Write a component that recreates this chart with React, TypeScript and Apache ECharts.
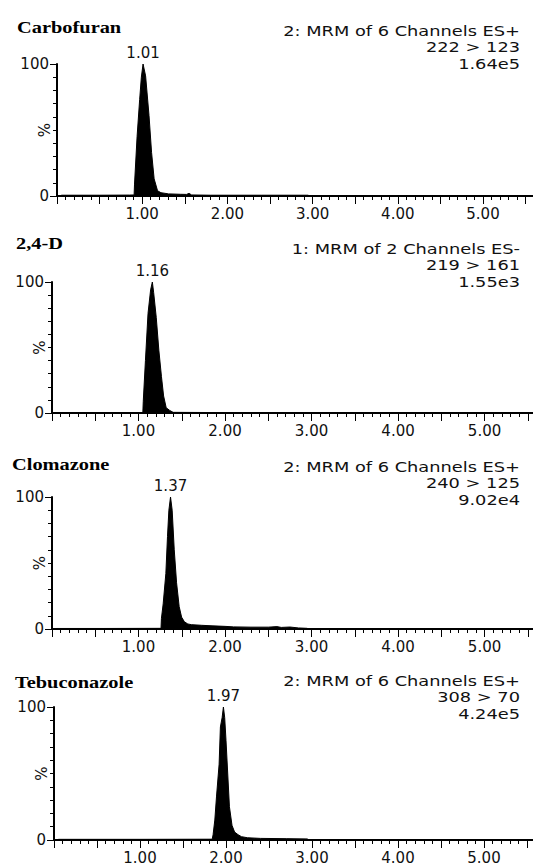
import React, { useEffect, useRef } from "react";
import * as echarts from "echarts";

// ---- data ----
const compoundNames = ["Carbofuran", "2,4-D", "Clomazone", "Tebuconazole"];
const channelLines = [
  ["2: MRM of 6 Channels ES+", "222 > 123", "1.64e5"],
  ["1: MRM of 2 Channels ES-", "219 > 161", "1.55e3"],
  ["2: MRM of 6 Channels ES+", "240 > 125", "9.02e4"],
  ["2: MRM of 6 Channels ES+", "308 > 70", "4.24e5"],
];
const peakTimes = [1.01, 1.16, 1.37, 1.97];
const peakLabels = ["1.01", "1.16", "1.37", "1.97"];
const xTickLabels = ["1.00", "2.00", "3.00", "4.00", "5.00"];
const yTickLabels = ["0", "100"];
const yAxisName = "%";

const carbofuran: [number, number][] = [
  [0.05, 0.6], [0.5, 0.6], [0.85, 0.7], [0.905, 0.8], [0.91, 9], [0.94, 45],
  [0.97, 73], [0.99, 90], [1.01, 100], [1.04, 91], [1.08, 61], [1.11, 33],
  [1.14, 13], [1.18, 4], [1.22, 2.5], [1.31, 1.6], [1.45, 1.3], [1.52, 1.2],
  [1.55, 2.0], [1.58, 0.8], [1.8, 0.6], [2.4, 0.6], [2.95, 0.6],
];
const dichlorophenoxy: [number, number][] = [
  [0.05, 0.3], [0.6, 0.3], [1.05, 0.3], [1.055, 9], [1.08, 40], [1.11, 76],
  [1.14, 94], [1.16, 100], [1.175, 92], [1.205, 73], [1.235, 48], [1.265, 28],
  [1.29, 13], [1.32, 4], [1.36, 2], [1.4, 0.5], [2.0, 0.3], [2.95, 0.3],
];
const clomazone: [number, number][] = [
  [0.05, 0.4], [0.6, 0.4], [1.26, 0.5], [1.265, 8], [1.285, 19], [1.316, 42],
  [1.335, 70], [1.351, 90], [1.37, 100], [1.389, 90], [1.413, 60], [1.44, 35],
  [1.47, 17], [1.498, 9], [1.53, 5.5], [1.57, 3.8], [1.61, 3.3], [1.73, 2.8],
  [1.85, 2.4], [2.0, 2.0], [2.1, 1.6], [2.3, 1.4], [2.5, 1.4], [2.6, 1.8],
  [2.65, 1.2], [2.75, 1.5], [2.85, 0.8], [2.95, 0.5],
];
const tebuconazole: [number, number][] = [
  [0.05, 0.5], [1.0, 0.5], [1.84, 0.6], [1.85, 4], [1.87, 15], [1.89, 33],
  [1.92, 57], [1.935, 85], [1.955, 92], [1.97, 100], [1.985, 92], [2.0, 75],
  [2.04, 25], [2.07, 11], [2.1, 6], [2.14, 4], [2.18, 2.5], [2.25, 1.7],
  [2.4, 1.2], [2.7, 1.0], [2.95, 0.8],
];
const traces = [carbofuran, dichlorophenoxy, clomazone, tebuconazole];

// ---- layout (pixels) ----
const panels = [
  { left: 57, top: 64, height: 132, max: 5.587, titleY: 27, textY: 31, titleX: 17 },
  { left: 52, top: 282, height: 131, max: 5.56, titleY: 243, textY: 249, titleX: 16 },
  { left: 52, top: 497, height: 132, max: 5.56, titleY: 464, textY: 467, titleX: 12 },
  { left: 54, top: 707, height: 133, max: 5.57, titleY: 682, textY: 681, titleX: 15 },
];
const SANS = "DejaVu Sans";
const SERIF = "Liberation Serif";
const TXT = "#111";

export default function App() {
  const ref = useRef<HTMLDivElement>(null);
  useEffect(() => {
    if (!ref.current) return;
    const chart = echarts.init(ref.current, undefined, { renderer: "svg" });

    const grid = panels.map((p) => ({
      left: p.left,
      top: p.top,
      height: p.height,
      right: 0,
      containLabel: false,
      outerBoundsMode: "none",
    }));
    const xAxis = panels.map((p, i) => ({
      type: "value",
      gridIndex: i,
      min: 0,
      max: p.max,
      interval: 0.5,
      axisLine: { show: true, onZero: false, lineStyle: { color: "#000", width: 2 } },
      axisTick: { show: true, length: 8, lineStyle: { color: "#000", width: 1 } },
      minorTick: { show: true, splitNumber: 5, length: 4, lineStyle: { color: "#000", width: 1 } },
      splitLine: { show: false },
      minorSplitLine: { show: false },
      axisLabel: {
        margin: 10,
        color: TXT,
        fontFamily: SANS,
        fontSize: 15,
        showMaxLabel: true,
        formatter: (v: number) => {
          const r = Math.round(v * 100) / 100;
          const k = Math.round(r);
          if (Math.abs(r - k) < 1e-6 && k >= 1 && k <= 5) return xTickLabels[k - 1];
          return "";
        },
      },
    }));
    const yAxis = panels.map((p, i) => ({
      type: "value",
      gridIndex: i,
      min: 0,
      max: 100,
      interval: 100,
      name: yAxisName,
      nameLocation: "middle",
      nameRotate: 90,
      nameGap: 5,
      nameMoveOverlap: false,
      nameTextStyle: { color: TXT, fontFamily: SANS, fontSize: 15 },
      axisLine: { show: true, lineStyle: { color: "#000", width: 2 } },
      axisTick: { show: true, length: 7, lineStyle: { color: "#000", width: 1 } },
      minorTick: { show: true, splitNumber: 10, length: 4, lineStyle: { color: "#000", width: 1 } },
      splitLine: { show: false },
      minorSplitLine: { show: false },
      axisLabel: {
        margin: 8,
        color: TXT,
        fontFamily: SANS,
        fontSize: 15,
        formatter: (v: number) => (v === 0 ? yTickLabels[0] : v === 100 ? yTickLabels[1] : ""),
      },
    }));
    const series = traces.map((tr, i) => ({
      type: "line",
      xAxisIndex: i,
      yAxisIndex: i,
      data: tr,
      showSymbol: false,
      symbol: "none",
      lineStyle: { color: "#000", width: 1 },
      areaStyle: { color: "#000", opacity: 1 },
      silent: true,
      markPoint: {
        symbol: "circle",
        symbolSize: 1,
        itemStyle: { color: "rgba(0,0,0,0)" },
        label: {
          show: true,
          position: "top",
          distance: 3,
          color: TXT,
          fontFamily: SANS,
          fontSize: 15,
          formatter: peakLabels[i],
        },
        data: [{ coord: [peakTimes[i], 100] }],
      },
    }));

    const graphic: any[] = [];
    panels.forEach((p, i) => {
      graphic.push({
        type: "text",
        x: p.titleX,
        y: p.titleY,
        scaleX: 1.2,
        style: {
          text: compoundNames[i],
          fill: "#000",
          font: `bold 17px "${SERIF}"`,
          textVerticalAlign: "middle",
        },
      });
      channelLines[i].forEach((ln, j) => {
        graphic.push({
          type: "text",
          x: 520,
          y: p.textY + j * 16.5,
          scaleX: 1.27,
          style: {
            text: ln,
            fill: TXT,
            font: `14px "${SANS}"`,
            textAlign: "right",
            textVerticalAlign: "middle",
          },
        });
      });
    });

    chart.setOption({
      animation: false,
      backgroundColor: "#fff",
      grid,
      xAxis,
      yAxis,
      series,
      graphic,
    } as any);
    return () => chart.dispose();
  }, []);
  return (
    <div
      ref={ref}
      style={{ position: "absolute", left: 0, top: 0, width: 533, height: 868 }}
    />
  );
}
